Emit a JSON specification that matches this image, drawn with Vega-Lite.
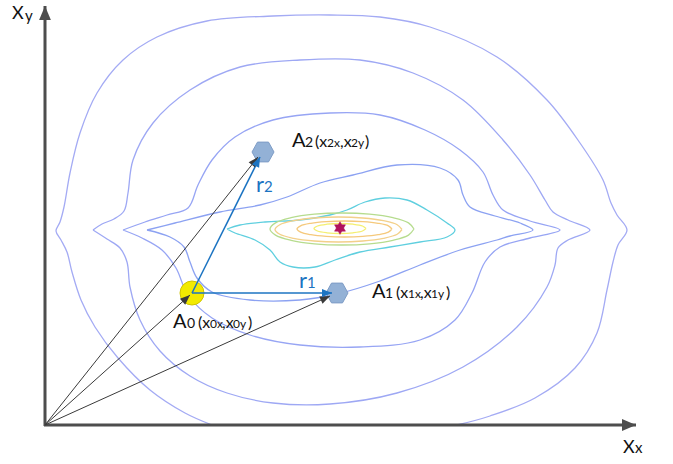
{
  "$schema": "https://vega.github.io/schema/vega-lite/v6.json",
  "width": 673,
  "height": 464,
  "autosize": {"type": "none"},
  "padding": 0,
  "background": "white",
  "config": {"view": {"stroke": null}, "font": "Lato"},
  "datasets": {
    "contours": [
      {"c":"A","i":0,"x":212,"y":425},{"c":"A","i":1,"x":185,"y":413},{"c":"A","i":2,"x":150,"y":390},{"c":"A","i":3,"x":118,"y":358},{"c":"A","i":4,"x":95,"y":327},{"c":"A","i":5,"x":81,"y":300},{"c":"A","i":6,"x":72,"y":272},{"c":"A","i":7,"x":67,"y":252},{"c":"A","i":8,"x":61,"y":240},{"c":"A","i":9,"x":56,"y":231},{"c":"A","i":10,"x":60,"y":222},{"c":"A","i":11,"x":64,"y":207},{"c":"A","i":12,"x":70,"y":173},{"c":"A","i":13,"x":80,"y":133},{"c":"A","i":14,"x":97,"y":93},{"c":"A","i":15,"x":123,"y":60},{"c":"A","i":16,"x":157,"y":37},{"c":"A","i":17,"x":207,"y":21},{"c":"A","i":18,"x":273,"y":16},{"c":"A","i":19,"x":330,"y":15},{"c":"A","i":20,"x":380,"y":17},{"c":"A","i":21,"x":430,"y":27},{"c":"A","i":22,"x":497,"y":57},{"c":"A","i":23,"x":547,"y":100},{"c":"A","i":24,"x":580,"y":143},{"c":"A","i":25,"x":603,"y":180},{"c":"A","i":26,"x":611,"y":203},{"c":"A","i":27,"x":617,"y":215},{"c":"A","i":28,"x":627,"y":230},{"c":"A","i":29,"x":618,"y":245},{"c":"A","i":30,"x":613,"y":262},{"c":"A","i":31,"x":607,"y":290},{"c":"A","i":32,"x":597,"y":333},{"c":"A","i":33,"x":575,"y":368},{"c":"A","i":34,"x":535,"y":398},{"c":"A","i":35,"x":490,"y":416},{"c":"A","i":36,"x":457,"y":425},

      {"c":"B","i":0,"x":93,"y":230},{"c":"B","i":1,"x":102,"y":224},{"c":"B","i":2,"x":114,"y":219},{"c":"B","i":3,"x":124,"y":211},{"c":"B","i":4,"x":128,"y":193},{"c":"B","i":5,"x":133,"y":160},{"c":"B","i":6,"x":153,"y":123},{"c":"B","i":7,"x":190,"y":90},{"c":"B","i":8,"x":240,"y":67},{"c":"B","i":9,"x":300,"y":60},{"c":"B","i":10,"x":360,"y":60},{"c":"B","i":11,"x":413,"y":73},{"c":"B","i":12,"x":463,"y":100},{"c":"B","i":13,"x":503,"y":140},{"c":"B","i":14,"x":530,"y":175},{"c":"B","i":15,"x":545,"y":200},{"c":"B","i":16,"x":553,"y":212},{"c":"B","i":17,"x":568,"y":220},{"c":"B","i":18,"x":590,"y":230},{"c":"B","i":19,"x":568,"y":240},{"c":"B","i":20,"x":558,"y":248},{"c":"B","i":21,"x":555,"y":265},{"c":"B","i":22,"x":547,"y":287},{"c":"B","i":23,"x":517,"y":327},{"c":"B","i":24,"x":463,"y":367},{"c":"B","i":25,"x":397,"y":393},{"c":"B","i":26,"x":330,"y":404},{"c":"B","i":27,"x":273,"y":403},{"c":"B","i":28,"x":227,"y":393},{"c":"B","i":29,"x":190,"y":376},{"c":"B","i":30,"x":160,"y":351},{"c":"B","i":31,"x":140,"y":320},{"c":"B","i":32,"x":130,"y":287},{"c":"B","i":33,"x":127,"y":262},{"c":"B","i":34,"x":120,"y":248},{"c":"B","i":35,"x":107,"y":239},{"c":"B","i":36,"x":93,"y":230},

      {"c":"C","i":0,"x":123,"y":230},{"c":"C","i":1,"x":145,"y":222},{"c":"C","i":2,"x":167,"y":215},{"c":"C","i":3,"x":188,"y":208},{"c":"C","i":4,"x":198,"y":185},{"c":"C","i":5,"x":212,"y":160},{"c":"C","i":6,"x":235,"y":137},{"c":"C","i":7,"x":273,"y":120},{"c":"C","i":8,"x":330,"y":113},{"c":"C","i":9,"x":380,"y":115},{"c":"C","i":10,"x":425,"y":130},{"c":"C","i":11,"x":460,"y":150},{"c":"C","i":12,"x":483,"y":172},{"c":"C","i":13,"x":493,"y":195},{"c":"C","i":14,"x":503,"y":210},{"c":"C","i":15,"x":530,"y":221},{"c":"C","i":16,"x":560,"y":230},{"c":"C","i":17,"x":530,"y":238},{"c":"C","i":18,"x":500,"y":247},{"c":"C","i":19,"x":485,"y":262},{"c":"C","i":20,"x":472,"y":293},{"c":"C","i":21,"x":455,"y":320},{"c":"C","i":22,"x":420,"y":340},{"c":"C","i":23,"x":360,"y":347},{"c":"C","i":24,"x":300,"y":345},{"c":"C","i":25,"x":250,"y":335},{"c":"C","i":26,"x":212,"y":318},{"c":"C","i":27,"x":188,"y":295},{"c":"C","i":28,"x":176,"y":268},{"c":"C","i":29,"x":162,"y":250},{"c":"C","i":30,"x":142,"y":238},{"c":"C","i":31,"x":123,"y":230},

      {"c":"D","i":0,"x":147,"y":230},{"c":"D","i":1,"x":175,"y":223},{"c":"D","i":2,"x":220,"y":212},{"c":"D","i":3,"x":260,"y":205},{"c":"D","i":4,"x":287,"y":197},{"c":"D","i":5,"x":320,"y":183},{"c":"D","i":6,"x":353,"y":175},{"c":"D","i":7,"x":397,"y":165},{"c":"D","i":8,"x":440,"y":168},{"c":"D","i":9,"x":458,"y":180},{"c":"D","i":10,"x":463,"y":195},{"c":"D","i":11,"x":470,"y":207},{"c":"D","i":12,"x":495,"y":216},{"c":"D","i":13,"x":520,"y":223},{"c":"D","i":14,"x":533,"y":230},{"c":"D","i":15,"x":510,"y":236},{"c":"D","i":16,"x":497,"y":240},{"c":"D","i":17,"x":460,"y":250},{"c":"D","i":18,"x":420,"y":265},{"c":"D","i":19,"x":380,"y":281},{"c":"D","i":20,"x":337,"y":294},{"c":"D","i":21,"x":300,"y":300},{"c":"D","i":22,"x":250,"y":300},{"c":"D","i":23,"x":212,"y":292},{"c":"D","i":24,"x":197,"y":278},{"c":"D","i":25,"x":190,"y":262},{"c":"D","i":26,"x":184,"y":247},{"c":"D","i":27,"x":170,"y":237},{"c":"D","i":28,"x":147,"y":230},

      {"c":"cyan","i":0,"x":227,"y":229},{"c":"cyan","i":1,"x":240,"y":225},{"c":"cyan","i":2,"x":265,"y":222},{"c":"cyan","i":3,"x":300,"y":220},{"c":"cyan","i":4,"x":330,"y":215},{"c":"cyan","i":5,"x":347,"y":210},{"c":"cyan","i":6,"x":365,"y":202},{"c":"cyan","i":7,"x":385,"y":198},{"c":"cyan","i":8,"x":407,"y":200},{"c":"cyan","i":9,"x":427,"y":210},{"c":"cyan","i":10,"x":447,"y":223},{"c":"cyan","i":11,"x":455,"y":230},{"c":"cyan","i":12,"x":447,"y":237},{"c":"cyan","i":13,"x":420,"y":242},{"c":"cyan","i":14,"x":390,"y":247},{"c":"cyan","i":15,"x":360,"y":252},{"c":"cyan","i":16,"x":335,"y":260},{"c":"cyan","i":17,"x":315,"y":267},{"c":"cyan","i":18,"x":293,"y":267},{"c":"cyan","i":19,"x":280,"y":262},{"c":"cyan","i":20,"x":270,"y":250},{"c":"cyan","i":21,"x":255,"y":240},{"c":"cyan","i":22,"x":235,"y":233},{"c":"cyan","i":23,"x":227,"y":229},

      {"c":"green","i":0,"x":414,"y":229},{"c":"green","i":1,"x":408.5,"y":222.9},{"c":"green","i":2,"x":392.9,"y":217.7},{"c":"green","i":3,"x":369.6,"y":214.2},{"c":"green","i":4,"x":342,"y":213},{"c":"green","i":5,"x":314.4,"y":214.2},{"c":"green","i":6,"x":291.1,"y":217.7},{"c":"green","i":7,"x":275.5,"y":222.9},{"c":"green","i":8,"x":270,"y":229},{"c":"green","i":9,"x":275.5,"y":235.1},{"c":"green","i":10,"x":291.1,"y":240.3},{"c":"green","i":11,"x":314.4,"y":243.8},{"c":"green","i":12,"x":342,"y":245},{"c":"green","i":13,"x":369.6,"y":243.8},{"c":"green","i":14,"x":392.9,"y":240.3},{"c":"green","i":15,"x":408.5,"y":235.1},{"c":"green","i":16,"x":414,"y":229},

      {"c":"or1","i":0,"x":402,"y":229.5},{"c":"or1","i":1,"x":397.2,"y":224.7},{"c":"or1","i":2,"x":383.4,"y":220.7},{"c":"or1","i":3,"x":362.8,"y":218},{"c":"or1","i":4,"x":338.5,"y":217},{"c":"or1","i":5,"x":314.2,"y":218},{"c":"or1","i":6,"x":293.6,"y":220.7},{"c":"or1","i":7,"x":279.8,"y":224.7},{"c":"or1","i":8,"x":275,"y":229.5},{"c":"or1","i":9,"x":279.8,"y":234.3},{"c":"or1","i":10,"x":293.6,"y":238.3},{"c":"or1","i":11,"x":314.2,"y":241},{"c":"or1","i":12,"x":338.5,"y":242},{"c":"or1","i":13,"x":362.8,"y":241},{"c":"or1","i":14,"x":383.4,"y":238.3},{"c":"or1","i":15,"x":397.2,"y":234.3},{"c":"or1","i":16,"x":402,"y":229.5},

      {"c":"or2","i":0,"x":392,"y":229},{"c":"or2","i":1,"x":388.4,"y":225.9},{"c":"or2","i":2,"x":378.1,"y":223.3},{"c":"or2","i":3,"x":362.7,"y":221.6},{"c":"or2","i":4,"x":344.5,"y":221},{"c":"or2","i":5,"x":326.3,"y":221.6},{"c":"or2","i":6,"x":310.9,"y":223.3},{"c":"or2","i":7,"x":300.6,"y":225.9},{"c":"or2","i":8,"x":297,"y":229},{"c":"or2","i":9,"x":300.6,"y":232.1},{"c":"or2","i":10,"x":310.9,"y":234.7},{"c":"or2","i":11,"x":326.3,"y":236.4},{"c":"or2","i":12,"x":344.5,"y":237},{"c":"or2","i":13,"x":362.7,"y":236.4},{"c":"or2","i":14,"x":378.1,"y":234.7},{"c":"or2","i":15,"x":388.4,"y":232.1},{"c":"or2","i":16,"x":392,"y":229},

      {"c":"yel","i":0,"x":366,"y":228.5},{"c":"yel","i":1,"x":362.5,"y":226},{"c":"yel","i":2,"x":353,"y":224.2},{"c":"yel","i":3,"x":340,"y":223.5},{"c":"yel","i":4,"x":327,"y":224.2},{"c":"yel","i":5,"x":317.5,"y":226},{"c":"yel","i":6,"x":314,"y":228.5},{"c":"yel","i":7,"x":317.5,"y":231},{"c":"yel","i":8,"x":327,"y":232.8},{"c":"yel","i":9,"x":340,"y":233.5},{"c":"yel","i":10,"x":353,"y":232.8},{"c":"yel","i":11,"x":362.5,"y":231},{"c":"yel","i":12,"x":366,"y":228.5}
    ],
    "arrows": [
      {"g":"axis","x":45,"y":426,"x2":45,"y2":6},
      {"g":"axis","x":44,"y":425,"x2":636,"y2":425},
      {"g":"black","x":45,"y":425,"x2":258,"y2":157},
      {"g":"black","x":45,"y":425,"x2":190,"y2":295},
      {"g":"black","x":45,"y":425,"x2":330,"y2":296},
      {"g":"blue","x":192,"y":293,"x2":332,"y2":293},
      {"g":"blue","x":192,"y":293,"x2":260,"y2":157}
    ],
    "markers": [
      {"k":"circle","x":192,"y":293},
      {"k":"hex","x":263,"y":152},
      {"k":"hex","x":337,"y":293},
      {"k":"star","x":340,"y":228}
    ]
  },
  "encoding": {
    "x": {"field": "x", "type": "quantitative", "scale": {"domain": [0, 673], "nice": false, "zero": false}, "axis": null},
    "y": {"field": "y", "type": "quantitative", "scale": {"domain": [0, 464], "nice": false, "zero": false, "reverse": true}, "axis": null}
  },
  "layer": [
    {
      "data": {"name": "contours"},
      "mark": {"type": "line", "interpolate": "catmull-rom", "strokeWidth": 1.3},
      "encoding": {
        "color": {"field": "c", "type": "nominal", "legend": null,
          "scale": {"domain": ["A","B","C","D","cyan","green","or1","or2","yel"],
                    "range": ["#a4abf4","#9ea8f4","#97a5f4","#8ca2f2","#5fcfdf","#b6dc8e","#f3d08a","#f5c97c","#f4ef72"]}},
        "order": {"field": "i", "type": "quantitative"}
      }
    },
    {
      "data": {"name": "markers"},
      "transform": [{"filter": "datum.k == 'circle'"}],
      "mark": {"type": "point", "shape": "circle", "size": 576, "filled": true, "fill": "#f2ea00", "stroke": "#cfc300", "strokeWidth": 1, "opacity": 1}
    },
    {
      "data": {"name": "markers"},
      "transform": [{"filter": "datum.k == 'hex'"}],
      "mark": {"type": "point", "shape": "M-1,0L-0.5,-0.9L0.5,-0.9L1,0L0.5,0.9L-0.5,0.9Z", "size": 484, "filled": true, "fill": "#93b1d6", "stroke": "#7f9dc6", "strokeWidth": 1, "opacity": 1}
    },
    {
      "data": {"name": "markers"},
      "transform": [{"filter": "datum.k == 'star'"}],
      "mark": {"type": "point", "shape": "M0,-1L0.866,0.5L-0.866,0.5Z M0,1L-0.866,-0.5L0.866,-0.5Z", "size": 160, "filled": true, "fill": "#b1135d", "stroke": "#b1135d", "strokeWidth": 0.5, "opacity": 1}
    },
    {
      "data": {"name": "arrows"},
      "transform": [{"filter": "datum.g == 'axis'"}],
      "mark": {"type": "rule", "color": "#4d4d4d", "strokeWidth": 3},
      "encoding": {"x2": {"field": "x2"}, "y2": {"field": "y2"}}
    },
    {
      "data": {"name": "arrows"},
      "transform": [{"filter": "datum.g == 'black'"}],
      "mark": {"type": "rule", "color": "#3a3a3a", "strokeWidth": 1},
      "encoding": {"x2": {"field": "x2"}, "y2": {"field": "y2"}}
    },
    {
      "data": {"name": "arrows"},
      "transform": [{"filter": "datum.g == 'blue'"}],
      "mark": {"type": "rule", "color": "#1c74c2", "strokeWidth": 1.5},
      "encoding": {"x2": {"field": "x2"}, "y2": {"field": "y2"}}
    },
    {
      "data": {"name": "arrows"},
      "transform": [
        {"filter": "datum.g == 'axis'"},
        {"calculate": "atan2(datum.x2 - datum.x, datum.y - datum.y2) * 180 / PI", "as": "ang"}
      ],
      "mark": {"type": "point", "shape": "M0,0L-0.42,1L0.42,1Z", "size": 784, "filled": true, "color": "#4d4d4d", "opacity": 1, "strokeWidth": 0},
      "encoding": {
        "x": {"field": "x2", "type": "quantitative"},
        "y": {"field": "y2", "type": "quantitative"},
        "angle": {"field": "ang", "type": "quantitative", "scale": null}
      }
    },
    {
      "data": {"name": "arrows"},
      "transform": [
        {"filter": "datum.g == 'black'"},
        {"calculate": "atan2(datum.x2 - datum.x, datum.y - datum.y2) * 180 / PI", "as": "ang"}
      ],
      "mark": {"type": "point", "shape": "M0,0L-0.4,1L0.4,1Z", "size": 400, "filled": true, "color": "#3a3a3a", "opacity": 1, "strokeWidth": 0},
      "encoding": {
        "x": {"field": "x2", "type": "quantitative"},
        "y": {"field": "y2", "type": "quantitative"},
        "angle": {"field": "ang", "type": "quantitative", "scale": null}
      }
    },
    {
      "data": {"name": "arrows"},
      "transform": [
        {"filter": "datum.g == 'blue'"},
        {"calculate": "atan2(datum.x2 - datum.x, datum.y - datum.y2) * 180 / PI", "as": "ang"}
      ],
      "mark": {"type": "point", "shape": "M0,0L-0.4,1L0.4,1Z", "size": 400, "filled": true, "color": "#1c74c2", "opacity": 1, "strokeWidth": 0},
      "encoding": {
        "x": {"field": "x2", "type": "quantitative"},
        "y": {"field": "y2", "type": "quantitative"},
        "angle": {"field": "ang", "type": "quantitative", "scale": null}
      }
    },
    {
      "data": {"values": [{"t":"A","x":292,"y":147},{"t":"A","x":372,"y":298},{"t":"A","x":173,"y":328}]},
      "mark": {"type": "text", "align": "left", "baseline": "alphabetic", "fontSize": 20, "color": "#111111"},
      "encoding": {"text": {"field": "t"}}
    },
    {
      "data": {"values": [{"t":"2","x":305,"y":147},{"t":"1","x":385,"y":298},{"t":"0","x":187,"y":328}]},
      "mark": {"type": "text", "align": "left", "baseline": "alphabetic", "fontSize": 14, "color": "#111111"},
      "encoding": {"text": {"field": "t"}}
    },
    {
      "data": {"values": [{"t":"(x","x":315,"y":147},{"t":",x","x":340,"y":147},{"t":")","x":365,"y":147},{"t":"(x","x":396,"y":298},{"t":",x","x":420,"y":298},{"t":")","x":446,"y":298},{"t":"(x","x":198,"y":328},{"t":",x","x":222,"y":328},{"t":")","x":248,"y":328}]},
      "mark": {"type": "text", "align": "left", "baseline": "alphabetic", "fontSize": 16, "color": "#111111"},
      "encoding": {"text": {"field": "t"}}
    },
    {
      "data": {"values": [{"t":"2x","x":327,"y":147},{"t":"2y","x":351,"y":147},{"t":"1x","x":408,"y":298},{"t":"1y","x":431,"y":298},{"t":"0x","x":210,"y":328},{"t":"0y","x":233,"y":328}]},
      "mark": {"type": "text", "align": "left", "baseline": "alphabetic", "fontSize": 12, "color": "#111111"},
      "encoding": {"text": {"field": "t"}}
    },
    {
      "data": {"values": [{"t":"X","x":12,"y":19},{"t":"X","x":623,"y":453}]},
      "mark": {"type": "text", "align": "left", "baseline": "alphabetic", "fontSize": 18, "color": "#111111"},
      "encoding": {"text": {"field": "t"}}
    },
    {
      "data": {"values": [{"t":"y","x":25,"y":21},{"t":"x","x":635,"y":453}]},
      "mark": {"type": "text", "align": "left", "baseline": "alphabetic", "fontSize": 15, "color": "#111111"},
      "encoding": {"text": {"field": "t"}}
    },
    {
      "data": {"values": [{"t":"r","x":256,"y":192},{"t":"r","x":299,"y":288}]},
      "mark": {"type": "text", "align": "left", "baseline": "alphabetic", "fontSize": 22, "color": "#1c74c2"},
      "encoding": {"text": {"field": "t"}}
    },
    {
      "data": {"values": [{"t":"2","x":264,"y":192},{"t":"1","x":307,"y":288}]},
      "mark": {"type": "text", "align": "left", "baseline": "alphabetic", "fontSize": 15, "color": "#1c74c2"},
      "encoding": {"text": {"field": "t"}}
    }
  ]
}
